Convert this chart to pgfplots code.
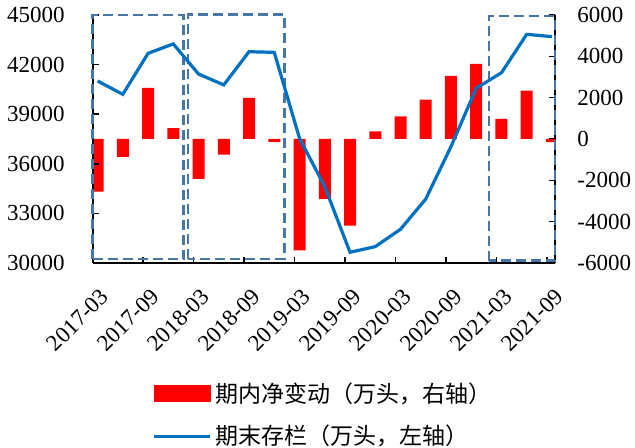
\documentclass[border=0pt]{standalone}
\usepackage{fontspec}
\setmainfont{Liberation Serif}
\newfontfamily\cjk{Noto Sans CJK SC}
\usepackage{pgfplots}
\usepackage{pgfplotstable}
\pgfplotsset{compat=1.18}

\definecolor{stockblue}{RGB}{0,112,192}
\definecolor{netred}{RGB}{255,0,0}
\definecolor{boxblue}{RGB}{72,118,166}

% quarterly hog inventory (10k head) and net change within the period
\pgfplotstableread{
idx stock change
0  41010 -2550
1  40200  -870
2  42680  2470
3  43250   530
4  41430 -1935
5  40770  -760
6  42780  1985
7  42740  -140
8  37540 -5390
9  34620 -2900
10 30650 -4195
11 30990   370
12 32040  1095
13 33870  1900
14 37040  3050
15 40570  3630
16 41510   970
17 43830  2340
18 43690  -150
}\hogdata

\begin{document}
\begin{tikzpicture}
\path[use as bounding box] (-46.5pt,-92.5pt) rectangle (271pt,131.5pt);
\pgfplotsset{
  base/.style={
    width=231pt, height=124pt, scale only axis,
    xmin=-0.18, xmax=18.12,
    tick align=inside, major tick length=3pt,
    axis line style={line width=0.75pt, black},
    tick style={line width=0.75pt, black},
    ticklabel style={font=\fontsize{11.5}{13}\selectfont},
    scaled ticks=false,
    /pgf/number format/1000 sep={},
    /pgf/number format/assume math mode=true,
  },
}
% net change, right axis
\begin{axis}[base,
  axis x line*=bottom, axis y line*=right,
  xtick={1.81,3.81,...,17.81}, xticklabels={,,,,,,,,,},
  ymin=-6000, ymax=6000, ytick={-6000,-4000,...,6000},
  yticklabel style={anchor=west, inner sep=0pt, xshift=11pt},
]
\addplot[ybar, bar width=6pt, bar shift=0pt, fill=netred, draw=none]
  table[x=idx, y=change] {\hogdata};
\end{axis}
% end-of-period inventory, left axis
\begin{axis}[base,
  axis x line*=bottom, axis y line*=left,
  clip=false,
  xtick={0,2,...,18},
  xticklabels={2017-03,2017-09,2018-03,2018-09,2019-03,2019-09,2020-03,2020-09,2021-03,2021-09},
  xtick style={draw=none},
  xticklabel style={xshift=3.75pt, yshift=-14.75pt, rotate=45, anchor=east, inner sep=0pt},
  ymin=30000, ymax=45000, ytick={30000,33000,...,45000},
  yticklabel style={anchor=east, inner sep=0pt, xshift=-14pt},
  legend cell align=left,
  legend style={at={(0.1277,-0.613)}, anchor=west, draw=none, fill=none,
    inner sep=0pt, row sep=10pt, column sep=1.75pt,
    nodes={inner sep=0pt},
    font=\cjk\fontsize{11.5}{13}\selectfont},
]
\addlegendimage{legend image code/.code={\fill[netred] (0pt,-4pt) rectangle (28pt,4pt);}}
\addlegendentry{期内净变动（万头，右轴）}
\draw[boxblue, line width=1.25pt, dash pattern=on 5pt off 2.5pt]
  (axis cs:-0.2,30240) rectangle (axis cs:3.41,45000);
\draw[boxblue, line width=1.25pt, dash pattern=on 5pt off 2.5pt]
  (axis cs:3.58,30240) rectangle (axis cs:7.40,45040);
\draw[boxblue, line width=1.25pt, dash pattern=on 5pt off 2.5pt]
  (axis cs:15.5,30140) rectangle (axis cs:18.12,44940);
\addplot[stockblue, line width=1.6pt, mark=none,
  legend image code/.code={\draw[stockblue, line width=1.6pt] (0pt,0pt) -- (28pt,0pt);}]
  table[x=idx, y=stock] {\hogdata};
\addlegendentry{期末存栏（万头，左轴）}
\end{axis}
\end{tikzpicture}
\end{document}
